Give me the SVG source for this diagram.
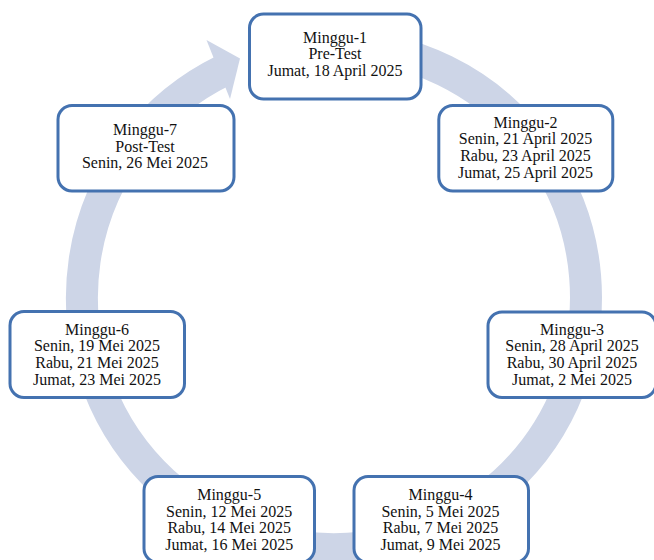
<svg xmlns="http://www.w3.org/2000/svg" width="654" height="560" viewBox="0 0 654 560">
  <style>
    .box { fill: #ffffff; stroke: #4472B0; stroke-width: 3; }
    .lbl { font-family: "Liberation Serif", "Times New Roman", serif; font-size: 16px; fill: #111111; text-anchor: middle; }
    .ring { fill: none; stroke: #CDD5E7; stroke-width: 32; stroke-linecap: butt; }
    .head { fill: #CDD5E7; }
  </style>
  <g id="connectors">
    <path class="ring" d="M 334 45 A 252 252 0 1 1 223.5 70.5"/>
    <polygon class="head" points="206.5,40 240,58.5 230,99"/>
  </g>
  <g id="minggu-1">
    <rect class="box" x="249.5" y="14" width="171.5" height="85" rx="14"/>
    <text class="lbl" x="335" y="42.6">Minggu-1</text>
    <text class="lbl" x="335" y="59.3">Pre-Test</text>
    <text class="lbl" x="335" y="76">Jumat, 18 April 2025</text>
  </g>
  <g id="minggu-2">
    <rect class="box" x="438.8" y="105.5" width="174" height="85.5" rx="14"/>
    <text class="lbl" x="525.5" y="127.5">Minggu-2</text>
    <text class="lbl" x="525.5" y="144.2">Senin, 21 April 2025</text>
    <text class="lbl" x="525.5" y="160.9">Rabu, 23 April 2025</text>
    <text class="lbl" x="525.5" y="177.6">Jumat, 25 April 2025</text>
  </g>
  <g id="minggu-3">
    <rect class="box" x="488" y="312" width="168" height="85.5" rx="14"/>
    <text class="lbl" x="572" y="334.5">Minggu-3</text>
    <text class="lbl" x="572" y="351.2">Senin, 28 April 2025</text>
    <text class="lbl" x="572" y="367.9">Rabu, 30 April 2025</text>
    <text class="lbl" x="572" y="384.6">Jumat, 2 Mei 2025</text>
  </g>
  <g id="minggu-4">
    <rect class="box" x="354" y="476.5" width="174.5" height="86" rx="14"/>
    <text class="lbl" x="440.5" y="500">Minggu-4</text>
    <text class="lbl" x="440.5" y="516.7">Senin, 5 Mei 2025</text>
    <text class="lbl" x="440.5" y="533.4">Rabu, 7 Mei 2025</text>
    <text class="lbl" x="440.5" y="550.1">Jumat, 9 Mei 2025</text>
  </g>
  <g id="minggu-5">
    <rect class="box" x="144" y="476.5" width="170.5" height="86" rx="14"/>
    <text class="lbl" x="229.2" y="500">Minggu-5</text>
    <text class="lbl" x="229.2" y="516.7">Senin, 12 Mei 2025</text>
    <text class="lbl" x="229.2" y="533.4">Rabu, 14 Mei 2025</text>
    <text class="lbl" x="229.2" y="550.1">Jumat, 16 Mei 2025</text>
  </g>
  <g id="minggu-6">
    <rect class="box" x="10" y="311.5" width="174.5" height="86" rx="14"/>
    <text class="lbl" x="97" y="334.5">Minggu-6</text>
    <text class="lbl" x="97" y="351.2">Senin, 19 Mei 2025</text>
    <text class="lbl" x="97" y="367.9">Rabu, 21 Mei 2025</text>
    <text class="lbl" x="97" y="384.6">Jumat, 23 Mei 2025</text>
  </g>
  <g id="minggu-7">
    <rect class="box" x="58" y="105.5" width="176" height="85.5" rx="14"/>
    <text class="lbl" x="145" y="135">Minggu-7</text>
    <text class="lbl" x="145" y="151.7">Post-Test</text>
    <text class="lbl" x="145" y="168.4">Senin, 26 Mei 2025</text>
  </g>
</svg>
